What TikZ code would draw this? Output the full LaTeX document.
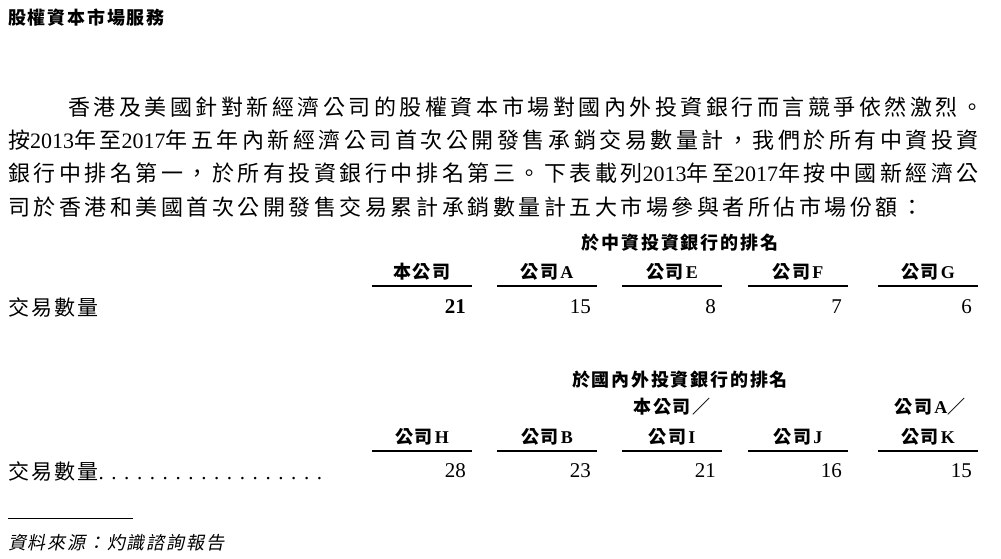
\documentclass[tikz,border=0pt]{standalone}
\usepackage{fontspec}
\setmainfont{Liberation Serif}
\newfontfamily\cjk[LetterSpace=16]{Noto Sans CJK TC}
\newfontfamily\cjkt[LetterSpace=10]{Noto Sans CJK TC}
\newfontfamily\cjki[FakeSlant=0.2,LetterSpace=10]{Noto Sans CJK TC}
\newcommand\lat[1]{{\rmfamily #1}}
\newcommand\mydots{\lat{\foreach \k in {1,...,18}{.\hspace{7.6pt}}}}
\tikzset{
  body/.style={anchor=west,inner sep=0pt,font=\fontsize{22}{26}\selectfont\cjk},
  cell/.style={inner sep=0pt,font=\fontsize{18}{21}\selectfont\cjkt\bfseries},
  val/.style={anchor=east,inner sep=0pt,font=\fontsize{21}{24}\selectfont},
  rule/.style={line width=1.6pt}
}
\begin{document}
\begin{tikzpicture}[x=1pt,y=-1pt]
\useasboundingbox (0,0) rectangle (1001,559);
\node[body,font=\fontsize{18}{21}\selectfont\cjkt\bfseries] (title) at (8,18) {股權資本市場服務};
\node[body] (l1) at (68,107) {香港及美國針對新經濟公司的股權資本市場對國內外投資銀行而言競爭依然激烈。};
\node[body] (l2) at (8,140) {按\lat{2013}年至\lat{2017}年五年內新經濟公司首次公開發售承銷交易數量計，我們於所有中資投資};
\node[body] (l3) at (8,173) {銀行中排名第一，於所有投資銀行中排名第三。下表載列\lat{2013}年至\lat{2017}年按中國新經濟公};
\node[body] (l4) at (8,207) {司於香港和美國首次公開發售交易累計承銷數量計五大市場參與者所佔市場份額：};
% table 1
\node[cell] (h1) at (680,243) {於中資投資銀行的排名};
\foreach \r/\t/\v [count=\i] in {472/本公司/\textbf{21},597/公司\lat{\textbf{A}}/15,722/公司\lat{\textbf{E}}/8,848/公司\lat{\textbf{F}}/7,978/公司\lat{\textbf{G}}/6}{
  \node[cell] (a\i) at (\r-50,272) {\t};
  \coordinate (al\i) at (\r-100,286);
  \coordinate (ar\i) at (\r,286);
  \draw[rule] (al\i) -- (ar\i);
  \node[val] (av\i) at (\r-6,307) {\v};
}
\node[body,font=\fontsize{21}{24}\selectfont\cjkt] (r1) at (8,307) {交易數量};
% table 2
\node[cell] (h2) at (680,380) {於國內外投資銀行的排名};
\node[cell] (s3) at (672,407) {本公司／};
\node[cell] (s5) at (930,407) {公司\lat{\textbf{A}}／};
\foreach \r/\t/\v [count=\i] in {472/公司\lat{\textbf{H}}/28,597/公司\lat{\textbf{B}}/23,722/公司\lat{\textbf{I}}/21,848/公司\lat{\textbf{J}}/16,978/公司\lat{\textbf{K}}/15}{
  \node[cell] (b\i) at (\r-50,437) {\t};
  \coordinate (bl\i) at (\r-100,451);
  \coordinate (br\i) at (\r,451);
  \draw[rule] (bl\i) -- (br\i);
  \node[val] (bv\i) at (\r-6,471) {\v};
}
\node[body,font=\fontsize{21}{24}\selectfont\cjkt] (r2) at (8,471) {交易數量\mydots};
% footnote
\coordinate (f1) at (8,518);
\coordinate (f2) at (133,518);
\draw[line width=0.8pt] (f1) -- (f2);
\node[body,font=\fontsize{18}{21}\selectfont\cjki] (src) at (8,543) {資料來源：灼識諮詢報告};
\end{tikzpicture}
\end{document}
